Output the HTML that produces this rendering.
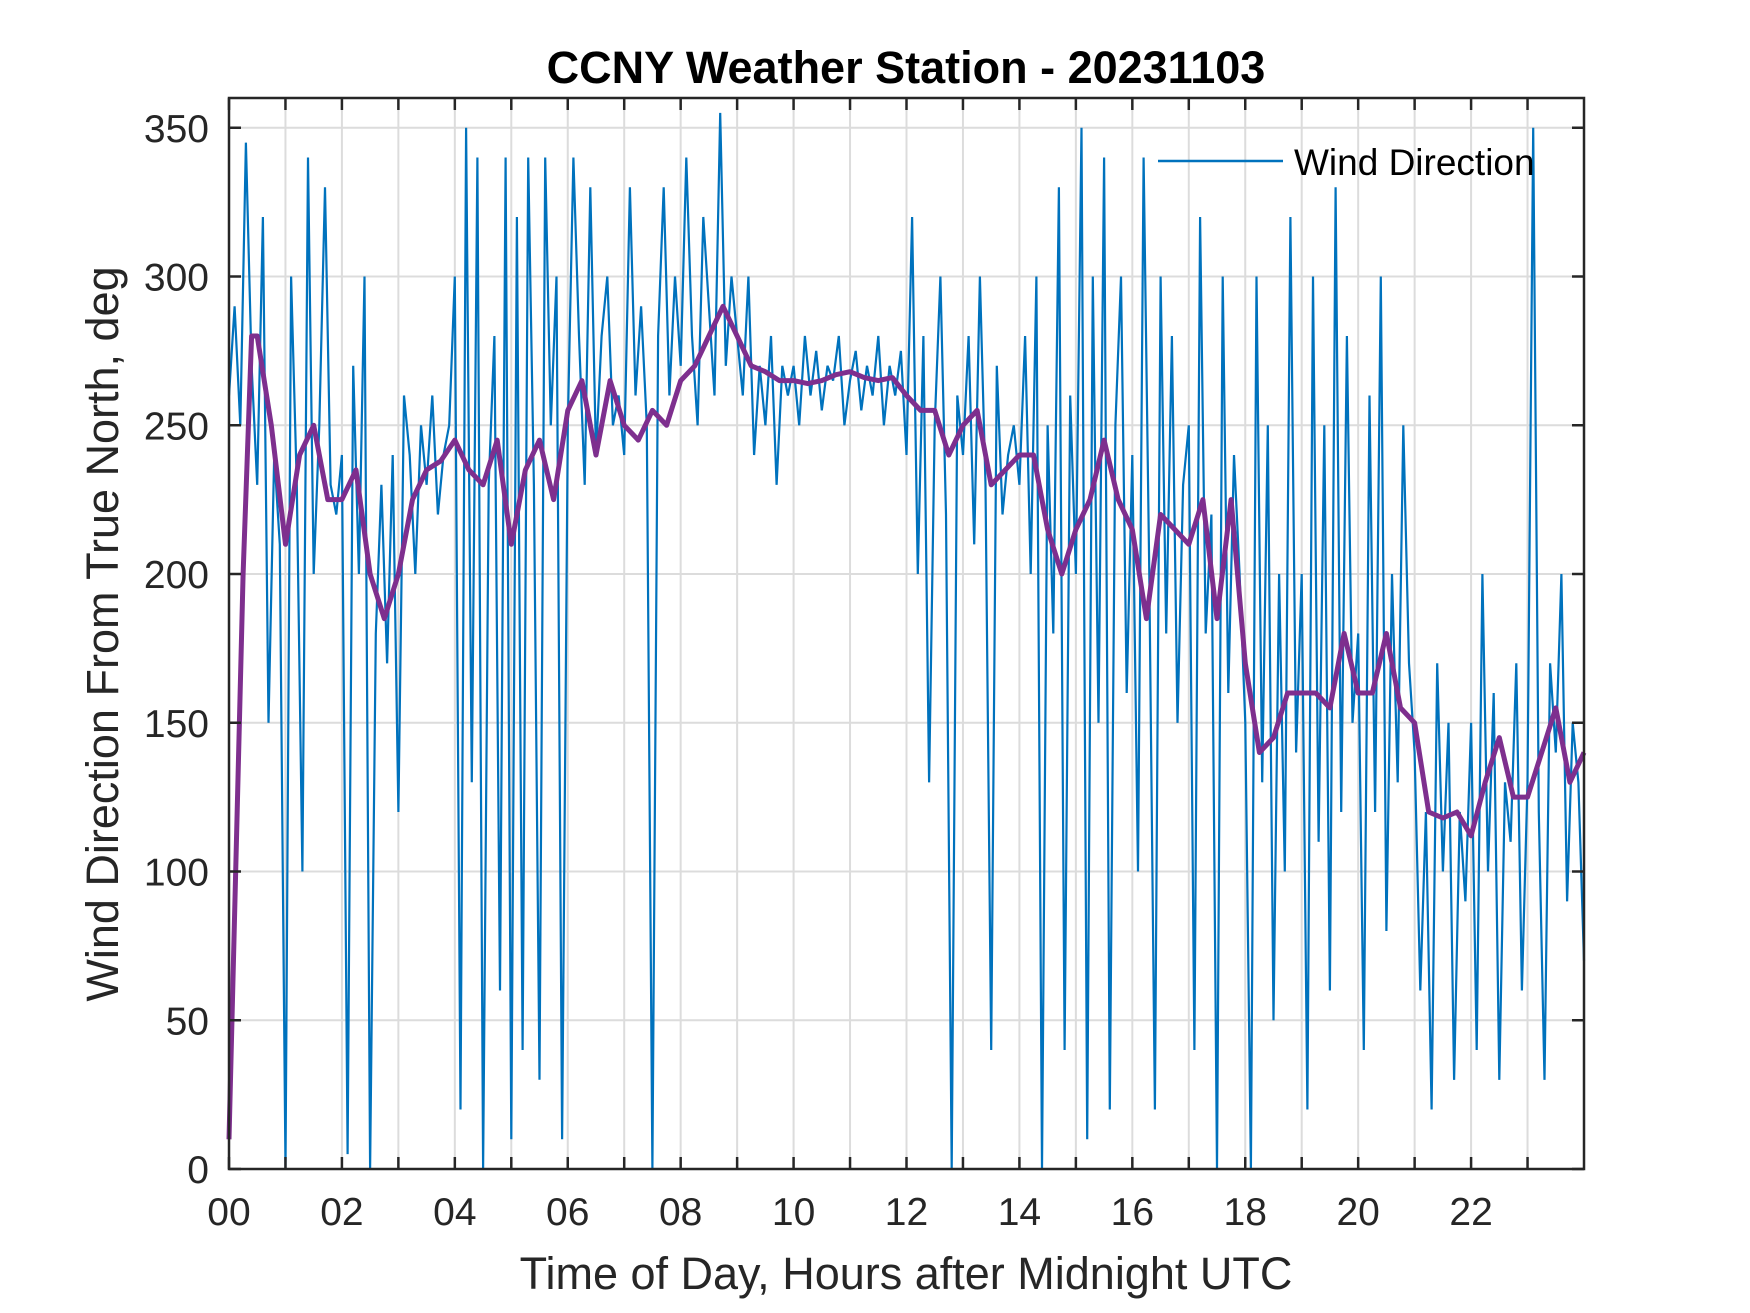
<!DOCTYPE html>
<html><head><meta charset="utf-8"><style>
html,body{margin:0;padding:0;background:#fff;}
svg{display:block;font-family:"Liberation Sans",Arial,sans-serif;}
</style></head><body>
<svg id="chart" width="1750" height="1313" viewBox="0 0 1750 1313" xmlns="http://www.w3.org/2000/svg">
<rect width="1750" height="1313" fill="#fff"/>
<g id="grid"></g>
<g id="series"></g>
<g id="axes"></g>
<text x="906" y="83" text-anchor="middle" font-size="45" font-weight="bold" fill="#000">CCNY Weather Station - 20231103</text>
<text x="906" y="1289" text-anchor="middle" font-size="45" fill="#262626">Time of Day, Hours after Midnight UTC</text>
<text transform="translate(118,634) rotate(-90)" text-anchor="middle" font-size="45" fill="#262626">Wind Direction From True North, deg</text>
<g>
<line x1="1158" y1="161" x2="1283" y2="161" stroke="#0072BD" stroke-width="2.5"/>
<text x="1294" y="175" font-size="37" fill="#000">Wind Direction</text>
</g>
</svg>
<script>
const xTicks=[0,1,2,3,4,5,6,7,8,9,10,11,12,13,14,15,16,17,18,19,20,21,22,23];
const xTickLabels=["00","","02","","04","","06","","08","","10","","12","","14","","16","","18","","20","","22",""];
const yTicks=[0,50,100,150,200,250,300,350];
const rawValues=[
260,290,250,345,270,230,320,150,240,210,
0,300,230,100,340,200,250,330,230,220,
240,5,270,200,300,0,180,230,170,240,
120,260,240,200,250,230,260,220,240,250,
300,20,350,130,340,0,230,280,60,340,
10,320,40,340,230,30,340,250,300,10,
250,340,280,230,330,240,280,300,250,260,
240,330,260,290,250,0,280,330,260,300,
270,340,280,250,320,290,260,355,270,300,
280,260,300,240,270,250,280,230,270,260,
270,250,280,260,275,255,270,265,280,250,
265,275,255,270,260,280,250,270,260,275,
240,320,200,280,130,250,300,220,0,260,
240,280,210,300,230,40,270,220,240,250,
230,280,200,300,0,250,180,330,40,260,
200,350,10,300,150,340,20,250,300,160,
240,100,340,200,20,300,180,280,150,230,
250,40,320,180,220,0,300,160,240,200,
150,0,300,130,250,50,200,100,320,140,
200,20,300,110,250,60,330,120,280,150,
180,40,260,120,300,80,200,130,250,170,
140,60,120,20,170,100,150,30,120,90,
150,40,200,100,160,30,130,110,170,60,
130,350,120,30,170,140,200,90,150,130,70];
const avgHours=[0,0.25,0.4,0.5,0.75,1,1.25,1.5,1.75,2,2.25,2.5,2.75,3,3.25,3.5,3.75,4,4.25,4.5,4.75,5,5.25,5.5,5.75,6,6.25,6.5,6.75,7,7.25,7.5,7.75,8,8.25,8.5,8.75,9,9.25,9.5,9.75,10,10.25,10.5,10.75,11,11.25,11.5,11.75,12,12.25,12.5,12.75,13,13.25,13.5,13.75,14,14.25,14.5,14.75,15,15.25,15.5,15.75,16,16.25,16.5,16.75,17,17.25,17.5,17.75,18,18.25,18.5,18.75,19,19.25,19.5,19.75,20,20.25,20.5,20.75,21,21.25,21.5,21.75,22,22.25,22.5,22.75,23,23.25,23.5,23.75,24];
const avgValues=[10,200,280,280,250,210,240,250,225,225,235,200,185,200,225,235,238,245,235,230,245,210,235,245,225,255,265,240,265,250,245,255,250,265,270,280,290,280,270,268,265,265,264,265,267,268,266,265,266,260,255,255,240,250,255,230,235,240,240,215,200,215,225,245,225,215,185,220,215,210,225,185,225,170,140,145,160,160,160,155,180,160,160,180,155,150,120,118,120,112,130,145,125,125,140,155,130,140];

const L=229,R=1584,T=98,B=1169,XMAX=24,YMAX=360;
const NS='http://www.w3.org/2000/svg';
function xs(h){return L+(h/XMAX)*(R-L);}
function ys(v){return B-(v/YMAX)*(B-T);}
function mk(tag,attrs,parent){const e=document.createElementNS(NS,tag);for(const k in attrs)e.setAttribute(k,attrs[k]);parent.appendChild(e);return e;}
const grid=document.getElementById('grid'),series=document.getElementById('series'),axes=document.getElementById('axes');
xTicks.forEach((t,i)=>{const x=xs(t);
 if(t>0){const g=mk('line',{x1:x,y1:T,x2:x,y2:B,stroke:'#dcdcdc','stroke-width':2},grid);
 
 }
 const a=mk('line',{x1:x,y1:B,x2:x,y2:B-12,stroke:'#262626','stroke-width':2.5},axes);
 
 
 const b=mk('line',{x1:x,y1:T,x2:x,y2:T+12,stroke:'#262626','stroke-width':2.5},axes);
 
 
 if(xTickLabels[i]){const tx=mk('text',{x:x,y:B+56,'text-anchor':'middle','font-size':39,fill:'#262626'},axes);tx.textContent=xTickLabels[i];
 
 }
});
yTicks.forEach(t=>{const y=ys(t);
 if(t>0){const g=mk('line',{x1:L,y1:y,x2:R,y2:y,stroke:'#dcdcdc','stroke-width':2},grid);
 
 }
 const a=mk('line',{x1:L,y1:y,x2:L+12,y2:y,stroke:'#262626','stroke-width':2.5},axes);
 
 
 const b=mk('line',{x1:R,y1:y,x2:R-12,y2:y,stroke:'#262626','stroke-width':2.5},axes);
 
 
 const tx=mk('text',{x:L-20,y:y+14,'text-anchor':'end','font-size':39,fill:'#262626'},axes);tx.textContent=t;
 
 
});
const box=mk('rect',{x:L,y:T,width:R-L,height:B-T,fill:'none',stroke:'#262626','stroke-width':2.5},axes);


const n=rawValues.length;
let d='';rawValues.forEach((v,i)=>{d+=(i?'L':'M')+xs(i*XMAX/(n-1)).toFixed(1)+','+ys(v).toFixed(1);});
const raw=mk('path',{d:d,fill:'none',stroke:'#0072BD','stroke-width':2.2},series);


let d2='';avgValues.forEach((v,i)=>{d2+=(i?'L':'M')+xs(avgHours[i]).toFixed(1)+','+ys(v).toFixed(1);});
const avg=mk('path',{d:d2,fill:'none',stroke:'#7E2F8E','stroke-width':5,'stroke-linejoin':'round'},series);


</script>
</body></html>
